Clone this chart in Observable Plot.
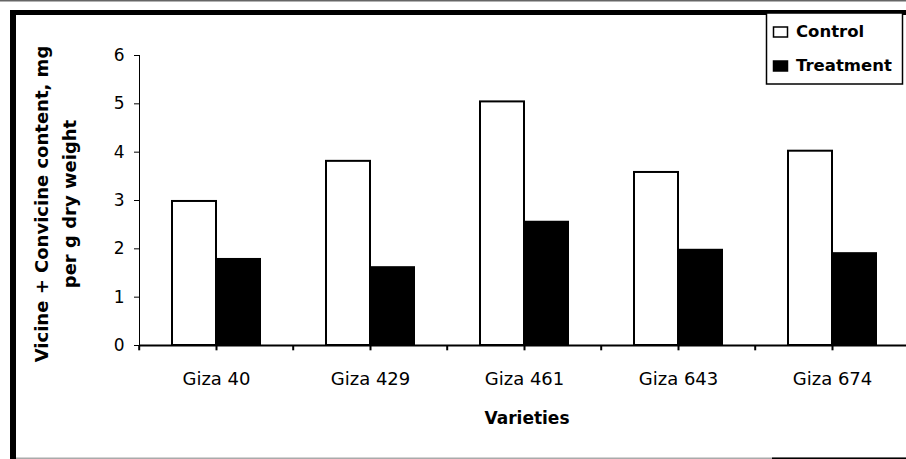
<!DOCTYPE html>
<html><head><meta charset="utf-8">
<script src="https://cdn.jsdelivr.net/npm/d3@7"></script>
<script src="https://cdn.jsdelivr.net/npm/@observablehq/plot@0.6"></script>
<style>
html,body{margin:0;padding:0;background:#fff;}
#chart{position:relative;width:906px;height:459px;overflow:hidden;background:#fff;}
</style></head><body><div id="chart"></div>
<script>
const varieties = ["Giza 40", "Giza 429", "Giza 461", "Giza 643", "Giza 674"];
const series = ["Control", "Treatment"];
const controlValues = [2.98, 3.81, 5.04, 3.58, 4.02];
const treatmentValues = [1.78, 1.61, 2.55, 1.97, 1.90];
const yTicks = [0, 1, 2, 3, 4, 5, 6];
const yLabelLines = ["Vicine + Convicine content, mg", "per g dry weight"];
const xLabel = "Varieties";

const data = varieties.flatMap((v, i) => [
  {variety: v, series: series[0], value: controlValues[i]},
  {variety: v, series: series[1], value: treatmentValues[i]}
]);

const W = 906, H = 459, mL = 137, mR = -4, mT = 55, mB = 114;
const bandW = (W - mL - mR) / varieties.length;

const chart = Plot.plot({
  width: W, height: H,
  marginLeft: mL, marginRight: mR, marginTop: mT, marginBottom: mB,
  style: {fontFamily: "'DejaVu Sans', sans-serif", fontSize: "17px", color: "#000", background: "transparent", overflow: "visible"},
  fx: {domain: varieties, padding: 0, label: null, tickSize: 0, tickPadding: 27, axis: "bottom"},
  x: {domain: series, paddingInner: 0, paddingOuter: 0.737, axis: null},
  y: {domain: [0, 6], ticks: yTicks.length - 1, tickSize: 5, tickPadding: 10, line: true, label: null, tickFormat: d => String(d)},
  color: {domain: series, range: ["#ffffff", "#000000"]},
  marks: [
    Plot.barY(data, {fx: "variety", x: "series", y: "value", fill: "series", stroke: "#000", strokeWidth: 2}),
    Plot.ruleY([0], {stroke: "#000", strokeWidth: 2}),
    Plot.ruleX(varieties, {fx: d => d, x: null, y1: 0, y2: -0.11, stroke: "#000", strokeWidth: 2}),
    Plot.ruleX(varieties, {fx: d => d, x: null, y1: 0, y2: -0.11, dx: -bandW / 2, stroke: "#000", strokeWidth: 2})
  ]
});

document.getElementById("chart").appendChild(chart);

const svg = d3.select(chart);
svg.selectAll("text").attr("fill", "#000");
svg.selectAll("g[aria-label^='fx'] text").style("font-size", "18px");

// frame decoration
svg.append("rect").attr("x", 0).attr("y", 0).attr("width", W).attr("height", 1.5).attr("fill", "#666");
svg.append("rect").attr("x", 10).attr("y", 10).attr("width", W - 10).attr("height", 5).attr("fill", "#000");
svg.append("rect").attr("x", 10).attr("y", 10).attr("width", 6).attr("height", H - 10).attr("fill", "#000");
svg.append("rect").attr("x", 16).attr("y", H - 1.5).attr("width", W - 16).attr("height", 1.5).attr("fill", "#aaa");
svg.append("rect").attr("x", 772).attr("y", H - 1.5).attr("width", W - 772).attr("height", 1.5).attr("fill", "#000");

// y label
const yc = 204;
svg.append("text").attr("transform", `translate(48,${yc}) rotate(-90)`)
  .attr("text-anchor", "middle").attr("font-weight", "bold").attr("font-size", 18)
  .attr("font-family", "'DejaVu Sans', sans-serif").attr("fill", "#000").text(yLabelLines[0]);
svg.append("text").attr("transform", `translate(76,${yc}) rotate(-90)`)
  .attr("text-anchor", "middle").attr("font-weight", "bold").attr("font-size", 18)
  .attr("font-family", "'DejaVu Sans', sans-serif").attr("fill", "#000").text(yLabelLines[1]);

// x label
svg.append("text").attr("x", 527).attr("y", 424)
  .attr("text-anchor", "middle").attr("font-weight", "bold").attr("font-size", 17)
  .attr("font-family", "'DejaVu Sans', sans-serif").attr("fill", "#000").text(xLabel);

// legend
const color = chart.scale("color");
const lg = svg.append("g");
lg.append("rect").attr("x", 766.5).attr("y", 13).attr("width", 136).attr("height", 71)
  .attr("fill", "#fff").attr("stroke", "#000").attr("stroke-width", 1.5);
series.forEach((s, i) => {
  const y0 = i === 0 ? 27 : 61;
  lg.append("rect").attr("x", 773.5).attr("y", y0).attr("width", 14).attr("height", 10)
    .attr("fill", color.range[i]).attr("stroke", "#000").attr("stroke-width", 1.5);
  lg.append("text").attr("x", 796).attr("y", y0 + 10).attr("text-anchor", "start")
    .attr("font-weight", "bold").attr("font-size", 16.5)
    .attr("font-family", "'DejaVu Sans', sans-serif").attr("fill", "#000").text(s);
});
</script>
</body></html>
